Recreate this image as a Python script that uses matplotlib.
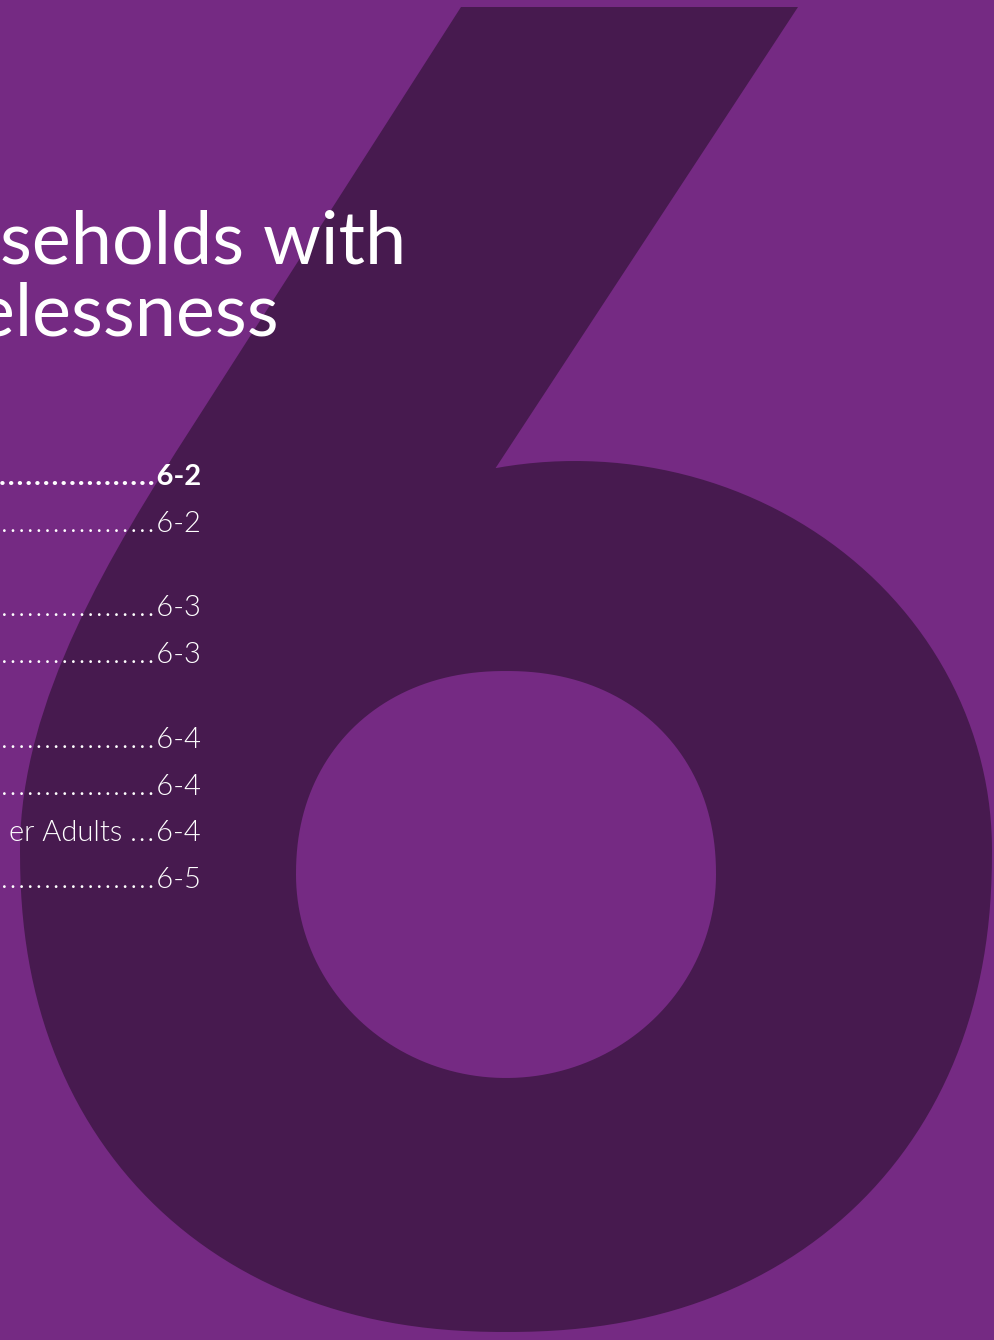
import numpy as np
import matplotlib
matplotlib.use("Agg")
import matplotlib.pyplot as plt
from matplotlib.path import Path
from matplotlib.patches import PathPatch

BG = "#752a83"
DARK = "#471a4f"

title_lines = ["seholds with", "elessness"]
title_x = [0, -24]
title_y = [263, 335]

toc_labels = ["", "", "", "", "", "", "er Adults ", ""]
toc_pages = ["6-2", "6-2", "6-3", "6-3", "6-4", "6-4", "6-4", "6-5"]
toc_bold = [True, False, False, False, False, False, False, False]
toc_y = [485, 532, 616, 663, 748, 795, 841, 888]
toc_dots = [18, 18, 18, 18, 18, 18, 3, 18]

HAIR = "\u200a"


def superellipse(cx, cy, rx, ry, n, t):
    c, s = np.cos(t), np.sin(t)
    x = cx + rx * np.sign(c) * np.abs(c) ** (2.0 / n)
    y = cy + ry * np.sign(s) * np.abs(s) ** (2.0 / n)
    return x, y


def six_outline():
    verts, codes = [], []
    # diagonal stroke
    for p in [(461, 7), (798, 7), (493, 472)]:
        verts.append(p)
        codes.append(Path.MOVETO if not codes else Path.LINETO)
    # upper right of the bowl
    th = np.linspace(np.deg2rad(101.4), 0, 60)
    for x, y in zip(575 + 417 * np.cos(th), 850 - 389 * np.sin(th)):
        verts.append((x, y))
        codes.append(Path.LINETO)
    # lower half of the bowl
    t = np.linspace(0, np.pi, 120)
    bx, by = superellipse(506, 850, 486, 482, 2.2, t)
    for x, y in zip(bx, by):
        verts.append((x, y))
        codes.append(Path.LINETO)
    # left shoulder back up into the stroke
    verts += [(20, 700), (113, 550), (190, 430)]
    codes += [Path.CURVE4] * 3
    verts += [(461, 7), (461, 7)]
    codes += [Path.LINETO, Path.CLOSEPOLY]
    return Path(verts, codes)


def hole_outline():
    t_top = np.linspace(np.pi, 2 * np.pi, 100)
    tx, ty = superellipse(506, 874.5, 210, 203.5, 2.15, t_top)
    t_bot = np.linspace(0, np.pi, 100)
    bx, by = superellipse(506, 874.5, 210, 203.5, 2.0, t_bot)
    xs = np.concatenate([tx, bx])
    ys = np.concatenate([ty, by])
    return np.column_stack([xs, ys])


fig = plt.figure(figsize=(9.94, 13.40), dpi=100)
fig.patch.set_facecolor(BG)
ax = fig.add_axes([0, 0, 1, 1])
ax.set_facecolor(BG)
ax.set_xlim(0, 994)
ax.set_ylim(1340, 0)
ax.axis("off")

ax.add_patch(PathPatch(six_outline(), facecolor=DARK, edgecolor="none", zorder=1))
ax.add_patch(plt.Polygon(hole_outline(), closed=True, facecolor=BG, edgecolor="none", zorder=2))

for line, x, y in zip(title_lines, title_x, title_y):
    ax.text(x, y, line, color="white", fontsize=53, family=["Lato", "DejaVu Sans"],
            ha="left", va="baseline", zorder=5, clip_on=True)

for label, page, bold, y, nd in zip(toc_labels, toc_pages, toc_bold, toc_y, toc_dots):
    w = "bold" if bold else 300
    leader = HAIR.join(["."] * nd) + HAIR
    ax.text(201, y, label + leader + page, color="white", fontsize=21,
            family=["Lato", "DejaVu Sans"], weight=w, ha="right", va="baseline",
            zorder=5, clip_on=True)

fig.savefig("out.png", dpi=100, facecolor=BG)
